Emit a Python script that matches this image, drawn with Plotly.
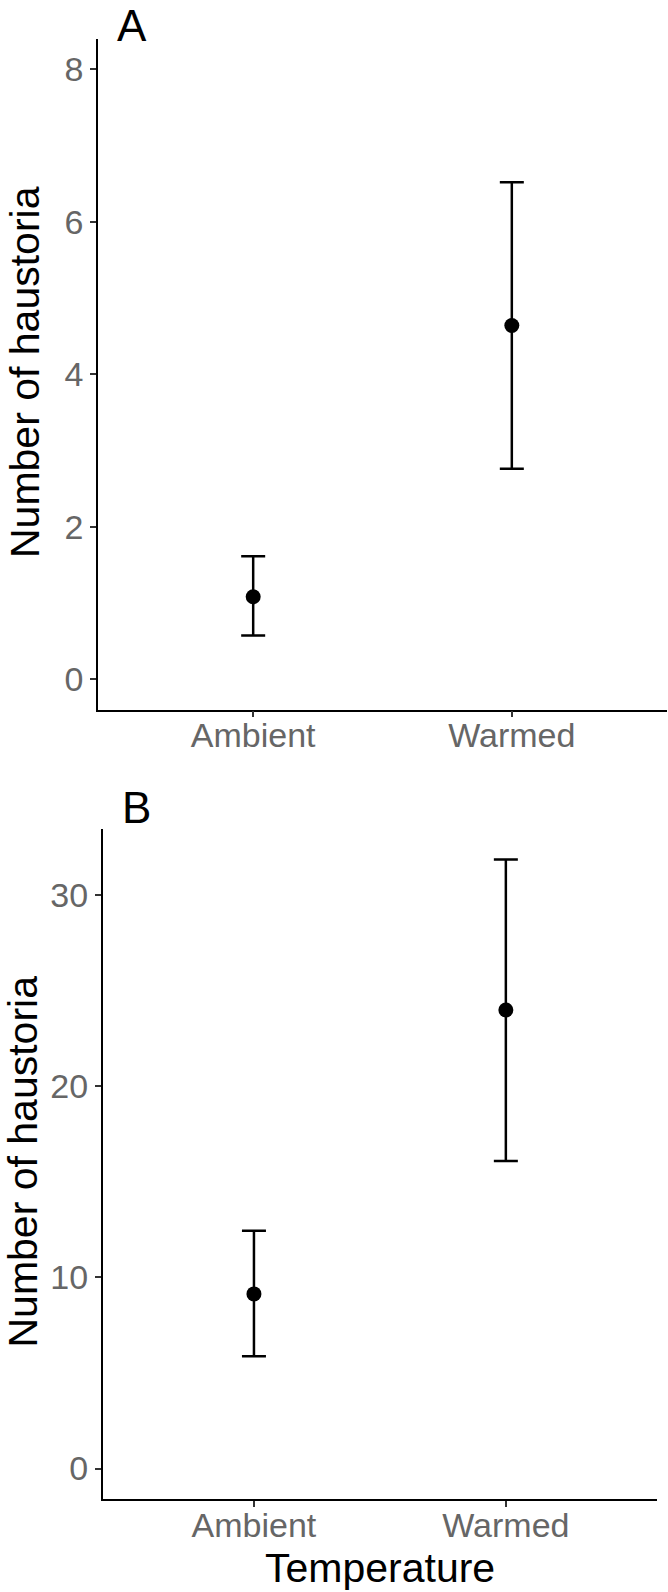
import plotly.graph_objects as go

# ---- data ----
temperature = ["Ambient", "Warmed"]
a_mean = [1.08, 4.64]
a_upper = [1.61, 6.52]
a_lower = [0.57, 2.76]
b_mean = [9.13, 23.97]
b_upper = [12.43, 31.83]
b_lower = [5.87, 16.08]
a_ticks = [0, 2, 4, 6, 8]
b_ticks = [0, 10, 20, 30]

W, H = 668, 1592
FONT = "Liberation Sans"


def px_x(x):
    return x / W


def px_y(y):
    return 1 - y / H


fig = go.Figure()


def add_panel(mean, upper, lower, xa, ya):
    fig.add_trace(go.Scatter(
        x=temperature, y=mean, mode="markers",
        marker=dict(color="black", size=15),
        error_y=dict(type="data", symmetric=False,
                     array=[u - m for u, m in zip(upper, mean)],
                     arrayminus=[m - l for m, l in zip(mean, lower)],
                     color="black", thickness=2.5, width=12),
        xaxis=xa, yaxis=ya, showlegend=False, hoverinfo="skip"))


add_panel(a_mean, a_upper, a_lower, "x", "y")
add_panel(b_mean, b_upper, b_lower, "x2", "y2")

common_x = dict(type="category", categoryorder="array", categoryarray=temperature,
                range=[-0.6, 1.6], showgrid=False, zeroline=False,
                showline=True, linecolor="black", linewidth=1.8,
                ticks="outside", ticklen=6, tickwidth=1.6, tickcolor="#333333",
                ticklabelstandoff=-11,
                tickfont=dict(family=FONT, size=34, color="#666666"))
common_y = dict(showgrid=False, zeroline=False,
                showline=True, linecolor="black", linewidth=1.8,
                ticks="outside", ticklen=6, tickwidth=1.6, tickcolor="#333333",
                tickfont=dict(family=FONT, size=34, color="#666666"))

fig.update_layout(
    width=W, height=H, autosize=False,
    margin=dict(l=0, r=0, t=0, b=0),
    paper_bgcolor="white", plot_bgcolor="white",
    xaxis=dict(common_x, domain=[px_x(98), px_x(667)], anchor="y"),
    yaxis=dict(common_y, domain=[px_y(709.5), px_y(39)], anchor="x",
               range=[-0.4, 8.4], tickvals=a_ticks),
    xaxis2=dict(common_x, domain=[px_x(102.8), px_x(657)], anchor="y2"),
    yaxis2=dict(common_y, domain=[px_y(1499), px_y(829)], anchor="x2",
                range=[-1.59, 33.43], tickvals=b_ticks),
)

ann = []
ann.append(dict(text="A", x=px_x(116), y=1.0, xanchor="left", yanchor="top",
                borderpad=0, font=dict(family=FONT, size=44, color="black")))
ann.append(dict(text="B", x=px_x(119.5), y=px_y(807), xanchor="left", yanchor="middle",
                font=dict(family=FONT, size=44, color="black")))
ann.append(dict(text="Number of haustoria", x=px_x(25), y=px_y(372), textangle=-90,
                xanchor="center", yanchor="middle",
                font=dict(family=FONT, size=41, color="black")))
ann.append(dict(text="Number of haustoria", x=px_x(22.5), y=px_y(1162), textangle=-90,
                xanchor="center", yanchor="middle",
                font=dict(family=FONT, size=41, color="black")))
ann.append(dict(text="Temperature", x=px_x(379.8), y=px_y(1567.5),
                xanchor="center", yanchor="middle",
                font=dict(family=FONT, size=41, color="black")))
for a in ann:
    a.update(xref="paper", yref="paper", showarrow=False)
fig.update_layout(annotations=ann)

fig.write_html("out.html", config={"displayModeBar": False},
               post_script="document.body.style.margin='0';document.body.style.padding='0';")
